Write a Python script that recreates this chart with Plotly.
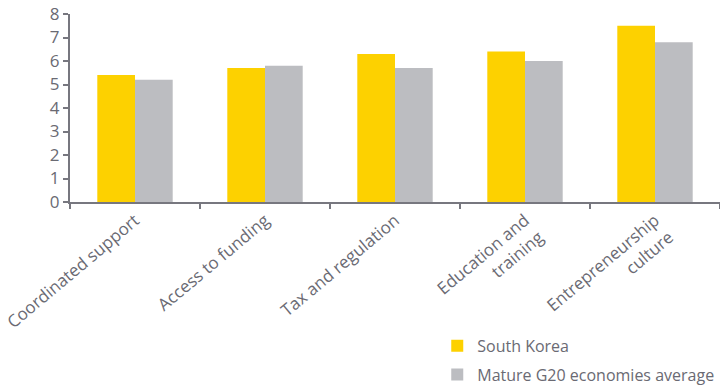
import plotly.graph_objects as go

categories = [
    "Coordinated support",
    "Access to funding",
    "Tax and regulation",
    "Education and<br>training",
    "Entrepreneurship<br>culture",
]
south_korea = [5.4, 5.7, 6.3, 6.4, 7.5]
g20_mature_avg = [5.2, 5.8, 5.7, 6.0, 6.8]
y_ticks = [0, 1, 2, 3, 4, 5, 6, 7, 8]

TEXT = "#6a6a73"
AXIS = "#77777f"
FONT = "Open Sans"

fig = go.Figure()
fig.add_trace(go.Bar(x=categories, y=south_korea, name="South Korea",
                     legendgroup="kr",
                     marker=dict(color="#FDD100", line=dict(width=0))))
fig.add_trace(go.Bar(x=categories, y=g20_mature_avg, name="Mature G20 economies average",
                     legendgroup="g20",
                     marker=dict(color="#BCBDC1", line=dict(width=0))))

fig.update_layout(
    width=720, height=387,
    margin=dict(l=70, r=0, t=14, b=185, autoexpand=False),
    paper_bgcolor="white", plot_bgcolor="white",
    barmode="group", bargap=0.42, bargroupgap=0,
    font=dict(family=FONT, color=TEXT, size=16),
    showlegend=True,
    legend=dict(x=0.565, y=-0.675, xanchor="left", yanchor="top",
                font=dict(size=16, color=TEXT), tracegroupgap=5,
                itemwidth=30, bgcolor="rgba(0,0,0,0)"),
)
fig.update_xaxes(
    automargin=False,
    showline=True, linecolor=AXIS, linewidth=2,
    ticks="outside", tickson="boundaries", ticklen=5, tickwidth=2, tickcolor=AXIS,
    tickangle=-40, tickfont=dict(size=17, color=TEXT),
    showgrid=False, zeroline=False,
)
fig.update_yaxes(
    automargin=False,
    range=[0, 8], tickvals=y_ticks,
    showline=True, linecolor=AXIS, linewidth=2,
    ticks="outside", ticklen=5, tickwidth=2, tickcolor=AXIS,
    tickfont=dict(size=17, color=TEXT),
    showgrid=False, zeroline=False,
)

fig.write_html("out.html")
